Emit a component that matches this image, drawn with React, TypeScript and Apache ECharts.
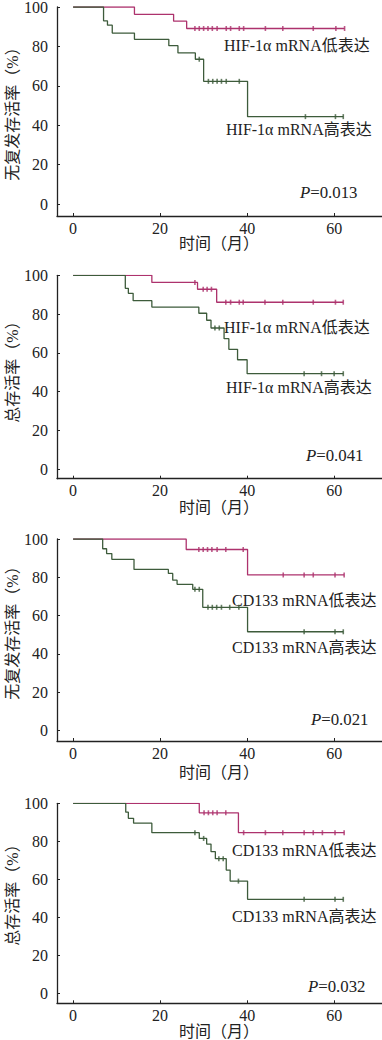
import React, { useEffect, useRef } from "react";
import * as echarts from "echarts";

// ---- data (months, survival %) ----
const xTicks = [0, 20, 40, 60];
const yTicks = [0, 20, 40, 60, 80, 100];

// Panel 1: RFS, HIF-1α
const rfsHifLowTimes = [0, 14.1, 23.1, 26.1, 62.4];
const rfsHifLowSurv = [100, 96.3, 92.8, 89.1, 89.1];
const rfsHifLowCensor = [28, 29, 30, 31, 32, 33.1, 35.2, 36.2, 38.2, 39.2, 44.2, 48.2, 55.2, 60.4, 62.4];
const rfsHifHighTimes = [0, 7.0, 7.9, 9.0, 14.1, 22.0, 24.1, 28.1, 30.0, 40.1, 62.1];
const rfsHifHighSurv = [100, 93.0, 90.8, 86.8, 83.6, 80.4, 76.7, 73.5, 62.3, 44.4, 44.4];
const rfsHifHighCensor = [29.0, 31.1, 32.1, 33.1, 34.1, 35.2, 38.2, 53.4, 60.3, 62.1];

// Panel 2: OS, HIF-1α
const osHifLowTimes = [0, 18.1, 28.6, 33.0, 62.1];
const osHifLowSurv = [100, 96.3, 92.8, 86.1, 86.1];
const osHifLowCensor = [28.0, 29.9, 30.8, 31.8, 35.1, 36.2, 38.2, 39.1, 44.1, 48.2, 55.2, 60.3, 62.1];
const osHifHighTimes = [0, 12.0, 12.7, 13.8, 18.1, 28.9, 30.7, 31.7, 34.7, 35.8, 37.8, 40.0, 62.1];
const osHifHighSurv = [100, 93.3, 90.7, 86.9, 83.6, 80.4, 76.8, 72.8, 67.3, 61.8, 56.4, 49.2, 49.2];
const osHifHighCensor = [32.6, 33.6, 53.1, 57.1, 60.0, 62.1];

// Panel 3: RFS, CD133
const rfsCdLowTimes = [0, 26.0, 40.1, 62.3];
const rfsCdLowSurv = [100, 94.5, 81.2, 81.2];
const rfsCdLowCensor = [28.9, 29.9, 30.9, 31.9, 33.1, 35.1, 39.1, 48.3, 53.1, 55.2, 60.2, 62.3];
const rfsCdHighTimes = [0, 6.8, 7.7, 8.9, 14.0, 21.9, 22.9, 23.9, 27.5, 29.8, 40.1, 62.1];
const rfsCdHighSurv = [100, 94.9, 92.4, 89.4, 84.1, 82.0, 78.5, 76.3, 73.7, 64.3, 51.5, 51.5];
const rfsCdHighCensor = [28.0, 29.0, 31.0, 32.0, 33.0, 34.1, 36.0, 38.1, 53.1, 60.2, 62.1];

// Panel 4: OS, CD133
const osCdLowTimes = [0, 29.0, 38.0, 62.3];
const osCdLowSurv = [100, 95.0, 84.5, 84.5];
const osCdLowCensor = [30.1, 31.1, 32.1, 33.1, 35.1, 39.2, 44.2, 48.2, 53.1, 55.2, 57.3, 60.2, 62.3];
const osCdHighTimes = [0, 12.1, 12.7, 13.9, 18.1, 29.0, 30.7, 31.7, 32.7, 35.2, 36.1, 40.1, 62.1];
const osCdHighSurv = [100, 95.3, 92.1, 89.5, 84.5, 81.5, 78.5, 74.5, 70.8, 64.8, 59.0, 49.4, 49.4];
const osCdHighCensor = [28.0, 30.0, 33.5, 34.5, 38.0, 53.1, 60.2, 62.1];

const pValues = ["0.013", "0.041", "0.021", "0.032"];
const yTitles = ["无复发存活率（%）", "总存活率（%）", "无复发存活率（%）", "总存活率（%）"];
const lowLabels = ["HIF-1α mRNA低表达", "HIF-1α mRNA低表达", "CD133 mRNA低表达", "CD133 mRNA低表达"];
const highLabels = ["HIF-1α mRNA高表达", "HIF-1α mRNA高表达", "CD133 mRNA高表达", "CD133 mRNA高表达"];
const xTitle = "时间（月）";

const panels = [
  { low: [rfsHifLowTimes, rfsHifLowSurv, rfsHifLowCensor], high: [rfsHifHighTimes, rfsHifHighSurv, rfsHifHighCensor] },
  { low: [osHifLowTimes, osHifLowSurv, osHifLowCensor], high: [osHifHighTimes, osHifHighSurv, osHifHighCensor] },
  { low: [rfsCdLowTimes, rfsCdLowSurv, rfsCdLowCensor], high: [rfsCdHighTimes, rfsCdHighSurv, rfsCdHighCensor] },
  { low: [osCdLowTimes, osCdLowSurv, osCdLowCensor], high: [osCdHighTimes, osCdHighSurv, osCdHighCensor] },
];

// ---- layout ----
const FONT = "'Liberation Serif', 'Noto Sans CJK SC', serif";
const PINK = "#ad326d";
const GREEN = "#3d5b3b";
const TEXT = "#222";
const layout = [
  { top: 7, height: 209, yMin: -6, yTitleY: 110, xTitleY: 243, low: [224, 45], high: [226, 129], p: [300, 193] },
  { top: 275.3, height: 203.4, yMin: -5, yTitleY: 368, xTitleY: 507, low: [224, 327], high: [226, 387], p: [306, 456] },
  { top: 539, height: 202, yMin: -5.6, yTitleY: 629, xTitleY: 772, low: [232, 600], high: [232, 647], p: [311, 720] },
  { top: 803.3, height: 200, yMin: -5.4, yTitleY: 891, xTitleY: 1031, low: [232, 850], high: [232, 916], p: [308, 987] },
];

function stepValue(times: number[], surv: number[], t: number) {
  let v = surv[0];
  for (let i = 0; i < times.length; i++) if (times[i] <= t + 1e-9) v = surv[i];
  return v;
}

export default function App() {
  const ref = useRef<HTMLDivElement>(null);
  useEffect(() => {
    if (!ref.current) return;
    const chart = echarts.init(ref.current, null, { renderer: "svg" });
    const grid: any[] = [];
    const xAxis: any[] = [];
    const yAxis: any[] = [];
    const series: any[] = [];
    const graphic: any[] = [];
    panels.forEach((p, i) => {
      const L = layout[i];
      grid.push({ left: 57, right: 0, top: L.top, height: L.height, containLabel: false, outerBoundsMode: "none" });
      xAxis.push({
        gridIndex: i, type: "value", min: -3.7, max: 71,
        splitLine: { show: false },
        axisLine: { onZero: false, lineStyle: { color: "#222", width: 1.3 } },
        axisTick: { inside: true, length: 3, customValues: xTicks, lineStyle: { color: "#222" } },
        axisLabel: { customValues: xTicks, color: TEXT, fontFamily: FONT, fontSize: 16, margin: 4 },
      });
      yAxis.push({
        gridIndex: i, type: "value", min: L.yMin, max: 100,
        splitLine: { show: false },
        axisLine: { show: true, onZero: false, lineStyle: { color: "#222", width: 1.3 } },
        axisTick: { show: true, inside: true, length: 3, customValues: yTicks, lineStyle: { color: "#222" } },
        axisLabel: { customValues: yTicks, color: TEXT, fontFamily: FONT, fontSize: 16, lineHeight: 12, margin: 9 },
      });
      const groups: [any[], string][] = [[p.low, PINK], [p.high, GREEN]];
      groups.forEach(([g, color]) => {
        const [times, surv, cens] = g as number[][];
        series.push({
          type: "line", xAxisIndex: i, yAxisIndex: i, step: "end", showSymbol: false,
          data: times.map((t, k) => [t, surv[k]]),
          lineStyle: { color, width: 1.3 }, silent: true,
        });
        series.push({
          type: "scatter", xAxisIndex: i, yAxisIndex: i, symbol: "rect", symbolSize: [1.6, 5],
          data: cens.map((t) => [t, stepValue(times, surv, t)]),
          itemStyle: { color }, silent: true,
        });
      });
      graphic.push({
        type: "text", x: 12, y: L.yTitleY, rotation: Math.PI / 2,
        style: { text: yTitles[i], fill: TEXT, font: `16px ${FONT}`, align: "center", verticalAlign: "middle" },
      });
      graphic.push({
        type: "text", x: 219, y: L.xTitleY,
        style: { text: xTitle, fill: TEXT, font: `16px ${FONT}`, align: "center", verticalAlign: "middle" },
      });
      graphic.push({
        type: "text", x: L.low[0], y: L.low[1],
        style: { text: lowLabels[i], fill: TEXT, font: `16px ${FONT}`, align: "left", verticalAlign: "middle" },
      });
      graphic.push({
        type: "text", x: L.high[0], y: L.high[1],
        style: { text: highLabels[i], fill: TEXT, font: `16px ${FONT}`, align: "left", verticalAlign: "middle" },
      });
      graphic.push({
        type: "text", x: L.p[0], y: L.p[1], scaleX: 1.05,
        style: {
          text: `{i|P}=${pValues[i]}`, fill: TEXT, font: `16px ${FONT}`, align: "left", verticalAlign: "middle",
          rich: { i: { fontStyle: "italic", fontFamily: FONT, fontSize: 16, fill: TEXT } },
        },
      });
    });
    chart.setOption({ animation: false, backgroundColor: "#fff", grid, xAxis, yAxis, series, graphic });
    return () => chart.dispose();
  }, []);
  return <div ref={ref} style={{ position: "absolute", left: 0, top: 0, width: 382, height: 1040 }} />;
}
